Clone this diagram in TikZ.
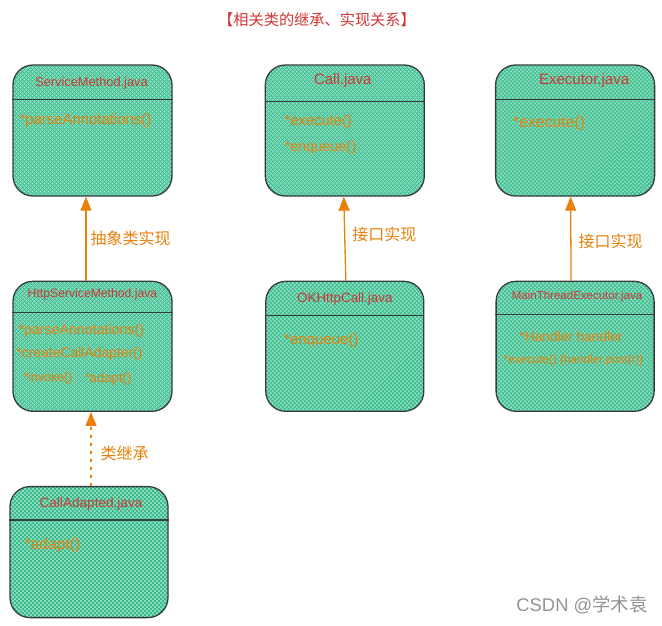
\documentclass[tikz,border=0pt]{standalone}
\usepackage{fontspec}
\setmainfont{Liberation Sans}
\newfontfamily\cjk{Noto Sans CJK SC}
\usetikzlibrary{positioning,arrows.meta}
\definecolor{boxfill}{RGB}{145,222,193}
\definecolor{hatch}{RGB}{40,182,132}
\definecolor{clsred}{RGB}{205,55,55}
\definecolor{mthorange}{RGB}{232,128,10}
\definecolor{edge}{RGB}{55,60,64}

\begin{document}
\begin{tikzpicture}[x=1pt, y=1pt, node distance=84pt,
    cls/.style = {draw=edge, line width=1.3pt, rounded corners=20pt, minimum width=159pt, minimum height=131pt,
                  fill=boxfill,
                  path picture={
                    \coordinate (c) at (path picture bounding box.center);
                    \foreach \k in {-250,-246,...,90}{
                      \draw[hatch, line width=0.55pt] ([shift={(\k,-85)}]c) -- ++(170,170);
                      \draw[hatch, line width=0.55pt] ([shift={(-\k,-85)}]c) -- ++(-170,170);
                    }}},
    divider/.style = {draw=edge, line width=1.3pt},
    clsname/.style = {text=clsred, inner sep=0pt},
    mth/.style = {text=mthorange, inner sep=0pt, anchor=west},
    impl/.style = {draw=mthorange, line width=1.3pt, -{Triangle[width=11pt,length=14pt]}},
    ext/.style = {impl, dash pattern=on 3pt off 5pt},
    rel/.style = {text=mthorange, font=\cjk\fontsize{16}{18}\selectfont, inner sep=0pt}]
    \useasboundingbox (0,0) rectangle (662,-625);

    \node[text=clsred, font=\cjk\fontsize{15.2}{17}\selectfont] (title) at (317,-20) {【相关类的继承、实现关系】};

    % top row
    \node[cls] (sm) at (92.5,-130.5) {};
    \node[cls] (call) [right=92pt of sm] {};
    \node[cls] (exec) [right=70pt of call] {};

    % middle row
    \node[cls, minimum height=130pt] (hsm) [below=84pt of sm] {};
    \node[cls, minimum height=130pt, minimum width=158pt] (okc) [below=84pt of call] {};
    \node[cls, minimum height=130pt, minimum width=158pt] (mte) [below=84pt of exec] {};

    % bottom
    \node[cls, minimum width=158pt] (ca) [below=74pt of hsm, xshift=-3.5pt] {};

    \draw[divider] ([yshift=-35]sm.north west) -- ([yshift=-35]sm.north east);
    \draw[divider] ([yshift=-37]call.north west) -- ([yshift=-37]call.north east);
    \draw[divider] ([yshift=-35]exec.north west) -- ([yshift=-35]exec.north east);
    \draw[divider] ([yshift=-32]hsm.north west) -- ([yshift=-32]hsm.north east);
    \draw[divider] ([yshift=-35]okc.north west) -- ([yshift=-35]okc.north east);
    \draw[divider] ([yshift=-34]mte.north west) -- ([yshift=-34]mte.north east);
    \draw[divider] ([yshift=-34]ca.north west) -- ([yshift=-34]ca.north east);

    \node[clsname, font=\fontsize{12.8}{15}\selectfont] (smT) at ([xshift=-1,yshift=-19]sm.north) {ServiceMethod.java};
    \node[clsname, font=\fontsize{15}{17}\selectfont] (callT) at ([xshift=-2,yshift=-16]call.north) {Call.java};
    \node[clsname, font=\fontsize{15}{17}\selectfont] (execT) at ([xshift=9,yshift=-16]exec.north) {Executor.java};
    \node[clsname, font=\fontsize{12.2}{14}\selectfont] (hsmT) at ([yshift=-14]hsm.north) {HttpServiceMethod.java};
    \node[clsname, font=\fontsize{13.4}{15}\selectfont] (okcT) at ([yshift=-18]okc.north) {OKHttpCall.java};
    \node[clsname, font=\fontsize{11.5}{13}\selectfont] (mteT) at ([xshift=2,yshift=-16]mte.north) {MainThreadExecutor.java};
    \node[clsname, font=\fontsize{13.6}{15}\selectfont] (caT) at ([xshift=2,yshift=-18]ca.north) {CallAdapted.java};

    \node[mth, font=\fontsize{14.9}{17}\selectfont] (sm1) at ([xshift=7,yshift=-56]sm.north west) {*parseAnnotations()};
    \node[mth, font=\fontsize{14.7}{17}\selectfont] (call1) at ([xshift=20,yshift=-57]call.north west) {*execute()};
    \node[mth, font=\fontsize{14.4}{17}\selectfont] (call2) at ([xshift=20,yshift=-83]call.north west) {*enqueue()};
    \node[mth, font=\fontsize{15.8}{18}\selectfont] (exec1) at ([xshift=18,yshift=-59]exec.north west) {*execute()};
    \node[mth, font=\fontsize{14.2}{16}\selectfont] (hsm1) at ([xshift=6,yshift=-50]hsm.north west) {*parseAnnotations()};
    \node[mth, font=\fontsize{13.9}{16}\selectfont] (hsm2) at ([xshift=4,yshift=-73]hsm.north west) {*createCallAdapter()};
    \node[mth, font=\fontsize{12.4}{14}\selectfont] (hsm3) at ([xshift=11,yshift=-98]hsm.north west) {*invoke()};
    \node[mth, font=\fontsize{13.2}{15}\selectfont] (hsm4) at ([xshift=72,yshift=-98]hsm.north west) {*adapt()};
    \node[mth, font=\fontsize{15}{17}\selectfont] (okc1) at ([xshift=19,yshift=-60]okc.north west) {*enqueue()};
    \node[mth, font=\fontsize{13.7}{16}\selectfont] (mte1) at ([xshift=24,yshift=-56]mte.north west) {*Handler handler};
    \node[mth, font=\fontsize{11.7}{14}\selectfont] (mte2) at ([xshift=8,yshift=-80]mte.north west) {*execute() \{handler.post(r)\}};
    \node[mth, font=\fontsize{15.7}{18}\selectfont] (ca1) at ([xshift=15,yshift=-59]ca.north west) {*adapt()};

    % relations
    \draw[impl] ([xshift=-6.5]hsm.north) -- node[rel, right=4pt] {抽象类实现} ([xshift=-6.5]sm.south);
    \draw[impl] ([xshift=1]okc.north) -- node[rel, right=7pt, yshift=4pt] {接口实现} ([xshift=-1]call.south);
    \draw[impl] ([xshift=-4]mte.north) -- node[rel, right=7pt, yshift=-3pt] {接口实现} ([xshift=-4.5]exec.south);
    \draw[ext] ([xshift=2]ca.north) -- node[rel, right=9pt, yshift=-4pt] {类继承} ([xshift=-1.5]hsm.south);

    \node[text=gray!85, font=\fontsize{18.4}{20}\selectfont] (mark) at (582,-605) {CSDN @{\cjk 学术袁}};
\end{tikzpicture}
\end{document}
